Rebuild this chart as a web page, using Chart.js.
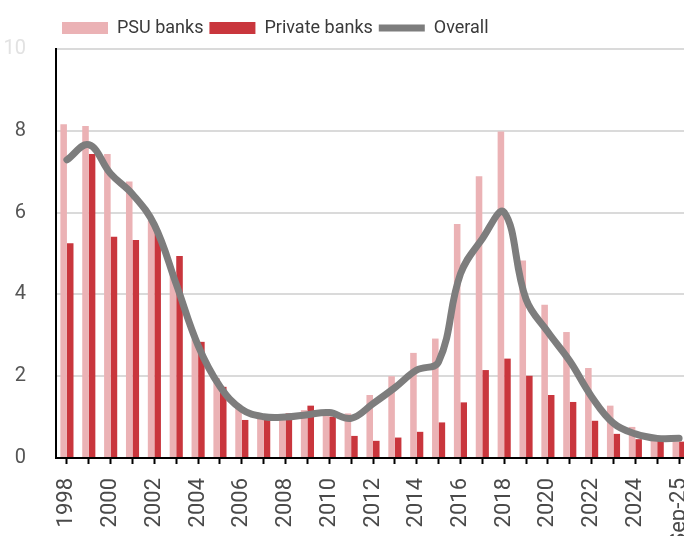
<!DOCTYPE html>
<html>
<head>
<meta charset="utf-8">
<script src="https://cdn.jsdelivr.net/npm/chart.js@4"></script>
<style>
    html, body { margin: 0; padding: 0; background: #fff; }
    #wrap { width: 684px; height: 536px; overflow: hidden; position: relative; }
    #wrap canvas { position: absolute; left: 0; top: 0; }
</style>
</head>
<body>
<div id="wrap">
    <canvas id="npaChart" width="720" height="570"></canvas>
</div>
<script>
// Gross NPA ratio (%) by bank group
const years = [
    "1998", "1999", "2000", "2001", "2002", "2003", "2004", "2005", "2006", "2007",
    "2008", "2009", "2010", "2011", "2012", "2013", "2014", "2015", "2016", "2017",
    "2018", "2019", "2020", "2021", "2022", "2023", "2024", "2025", "Sep-25",
];
const psuBanks = [
    8.16, 8.12, 7.43, 6.76, 5.80, 4.54, 2.90, 1.95, 1.30, 1.00,
    0.97, 1.17, 1.05, 1.09, 1.54, 2.00, 2.57, 2.92, 5.72, 6.89,
    7.98, 4.83, 3.75, 3.08, 2.20, 1.28, 0.76, 0.44, 0.40,
];
const privateBanks = [
    5.25, 7.43, 5.41, 5.33, 5.50, 4.94, 2.84, 1.74, 0.93, 0.94,
    1.09, 1.28, 1.01, 0.54, 0.42, 0.50, 0.64, 0.87, 1.36, 2.15,
    2.43, 2.01, 1.54, 1.37, 0.91, 0.59, 0.46, 0.42, 0.40,
];
const overall = [
    7.29, 7.66, 6.95, 6.45, 5.70, 4.25, 2.75, 1.75, 1.19, 1.01,
    1.00, 1.06, 1.11, 0.97, 1.33, 1.72, 2.15, 2.35, 4.50, 5.36,
    6.01, 3.88, 3.08, 2.37, 1.50, 0.85, 0.59, 0.48, 0.48,
];
const yTicks = [0, 2, 4, 6, 8, 10];

const canvas = document.getElementById("npaChart");
const H = canvas.height;
const AXIS_Y = 458; // x axis baseline

// a little extra space between legend and plot
const legendGap = {
    id: "legendGap",
    beforeInit(chart) {
        const fit = chart.legend.fit;
        chart.legend.fit = function () {
            fit.call(this);
            this.height += 2;
        };
    },
};

new Chart(canvas, {
    type: "bar",
    data: {
        labels: years,
        datasets: [
            {
                label: "PSU banks",
                data: psuBanks,
                backgroundColor: "#ebb2b5",
                borderWidth: 0,
                pointStyle: "rect",
                categoryPercentage: 0.6,
                barPercentage: 1,
            },
            {
                label: "Private banks",
                data: privateBanks,
                backgroundColor: "#c9363d",
                borderWidth: 0,
                pointStyle: "rect",
                categoryPercentage: 0.6,
                barPercentage: 1,
            },
            {
                type: "line",
                label: "Overall",
                data: overall,
                borderColor: "#7d7d7d",
                backgroundColor: "#7d7d7d",
                borderWidth: 7,
                borderCapStyle: "round",
                borderJoinStyle: "round",
                tension: 0.4,
                pointRadius: 0,
                pointStyle: "line",
                order: -1, // keep the line above the bars
            },
        ],
    },
    plugins: [legendGap],
    options: {
        responsive: false,
        animation: false,
        layout: {
            padding: { left: 0, right: 26, top: 13, bottom: 0 },
        },
        plugins: {
            tooltip: { enabled: false },
            legend: {
                display: true,
                position: "top",
                align: "start",
                fullSize: false,
                labels: {
                    usePointStyle: true,
                    pointStyleWidth: 46,
                    boxHeight: 12,
                    padding: 6,
                    color: "#3a3a3a",
                    font: { family: "Roboto", size: 18 },
                    sort: (a, b) => a.datasetIndex - b.datasetIndex,
                },
            },
        },
        scales: {
            x: {
                offset: true,
                grid: {
                    offset: false,
                    drawOnChartArea: false,
                    drawTicks: true,
                    tickLength: 6,
                    tickColor: "#000",
                    tickWidth: 2,
                },
                border: { color: "#000", width: 2 },
                ticks: {
                    autoSkip: false,
                    minRotation: 90,
                    maxRotation: 90,
                    padding: 14,
                    color: "#4a4a4a",
                    font: { family: "Roboto", size: 22 },
                    callback: (value, index) => (index % 2 === 0 ? years[index] : ""),
                },
                afterFit: (axis) => {
                    axis.height = H - AXIS_Y;
                },
            },
            y: {
                min: 0,
                max: 10,
                afterBuildTicks: (axis) => {
                    axis.ticks = yTicks.map((v) => ({ value: v }));
                },
                grid: {
                    color: "#dadada",
                    lineWidth: 2,
                    drawTicks: false,
                },
                border: { color: "#000", width: 2 },
                ticks: {
                    padding: 30,
                    color: (ctx) => (ctx.tick.value === 10 ? "#e2e2e2" : "#555"),
                    font: { family: "Roboto", size: 20 },
                },
                afterFit: (axis) => {
                    axis.width = 56;
                },
            },
        },
    },
});
</script>
</body>
</html>
